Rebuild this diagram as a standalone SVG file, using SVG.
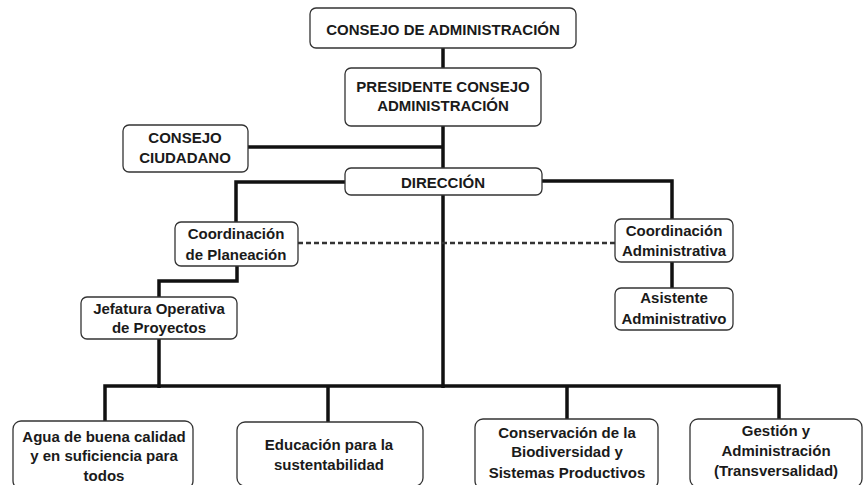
<svg xmlns="http://www.w3.org/2000/svg" width="866" height="485" viewBox="0 0 866 485">
<style>
.box{fill:#fff;stroke:#333;stroke-width:1.3}
.t{font-family:"Liberation Sans",Arial,sans-serif;font-weight:bold;font-size:15px;fill:#1a1a1a;text-anchor:middle}
.c{fill:none;stroke:#111;stroke-width:3.5;stroke-linejoin:miter}
.d{fill:none;stroke:#333;stroke-width:2.5;stroke-dasharray:5 3}
</style>
<rect width="866" height="485" fill="#fff"/>
<g id="connectors">
<path class="c" d="M443 48V68"/>
<path class="c" d="M443 126V168"/>
<path class="c" d="M248 147H443"/>
<path class="c" d="M345 182H236V222"/>
<path class="c" d="M542 181H672V219"/>
<path class="c" d="M672 262V288"/>
<path class="c" d="M443 195V388"/>
<path class="c" d="M237 266V281H159V297"/>
<path class="c" d="M159 339V388"/>
<path class="c" d="M105 421V386H779V419"/>
<path class="c" d="M328 386V422"/>
<path class="c" d="M567 386V419"/>
<path class="d" d="M298 243H615"/>
</g>
<g id="consejo-administracion">
<rect class="box" x="310" y="8" width="266" height="40" rx="6"/>
<text class="t" x="443" y="35">CONSEJO DE ADMINISTRACIÓN</text>
</g>
<g id="presidente">
<rect class="box" x="345" y="68" width="196" height="58" rx="6"/>
<text class="t" x="443" y="92">PRESIDENTE CONSEJO</text>
<text class="t" x="443" y="111">ADMINISTRACIÓN</text>
</g>
<g id="consejo-ciudadano">
<rect class="box" x="123" y="125" width="125" height="47" rx="6"/>
<text class="t" x="185" y="143">CONSEJO</text>
<text class="t" x="185" y="163">CIUDADANO</text>
</g>
<g id="direccion">
<rect class="box" x="345" y="168" width="197" height="27" rx="6"/>
<text class="t" x="443" y="188">DIRECCIÓN</text>
</g>
<g id="coord-planeacion">
<rect class="box" x="175" y="222" width="123" height="44" rx="6"/>
<text class="t" x="236" y="239">Coordinación</text>
<text class="t" x="236" y="260">de Planeación</text>
</g>
<g id="jefatura">
<rect class="box" x="81" y="297" width="156" height="42" rx="6"/>
<text class="t" x="159" y="314">Jefatura Operativa</text>
<text class="t" x="159" y="333">de Proyectos</text>
</g>
<g id="coord-administrativa">
<rect class="box" x="615" y="219" width="118" height="43" rx="6"/>
<text class="t" x="674" y="236">Coordinación</text>
<text class="t" x="674" y="256">Administrativa</text>
</g>
<g id="asistente">
<rect class="box" x="615" y="288" width="118" height="42" rx="6"/>
<text class="t" x="674" y="303">Asistente</text>
<text class="t" x="674" y="324">Administrativo</text>
</g>
<g id="agua">
<rect class="box" x="13" y="421" width="180" height="68" rx="8"/>
<text class="t" x="104" y="442">Agua de buena calidad</text>
<text class="t" x="104" y="461">y en suficiencia para</text>
<text class="t" x="104" y="481">todos</text>
</g>
<g id="educacion">
<rect class="box" x="237" y="422" width="186" height="64" rx="8"/>
<text class="t" x="329" y="450">Educación para la</text>
<text class="t" x="329" y="470">sustentabilidad</text>
</g>
<g id="conservacion">
<rect class="box" x="475" y="419" width="183" height="70" rx="8"/>
<text class="t" x="567" y="438">Conservación de la</text>
<text class="t" x="567" y="457">Biodiversidad y</text>
<text class="t" x="567" y="478">Sistemas Productivos</text>
</g>
<g id="gestion">
<rect class="box" x="690" y="419" width="172" height="68" rx="8"/>
<text class="t" x="776" y="436">Gestión y</text>
<text class="t" x="776" y="456">Administración</text>
<text class="t" x="776" y="476">(Transversalidad)</text>
</g>
</svg>
